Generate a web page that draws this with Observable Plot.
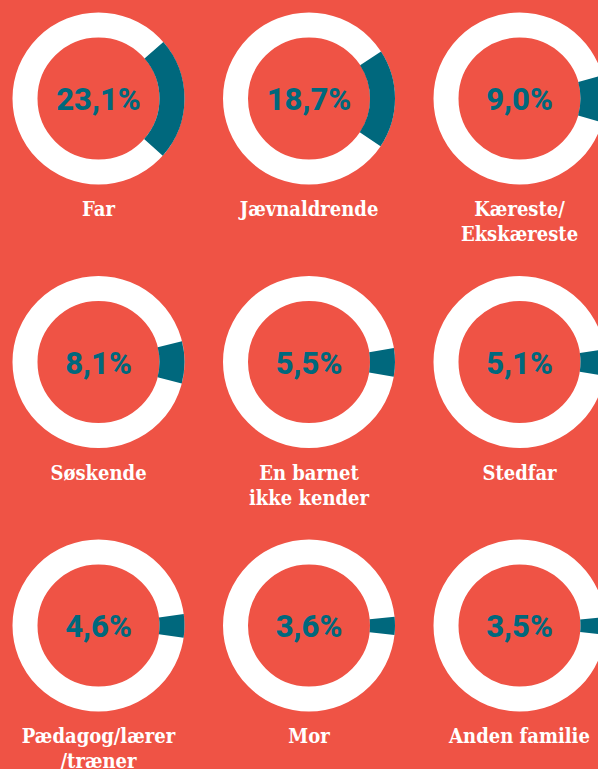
<!DOCTYPE html>
<html><head><meta charset="utf-8">
<script src="https://cdn.jsdelivr.net/npm/d3@7"></script>
<script src="https://cdn.jsdelivr.net/npm/@observablehq/plot@0.6"></script>
<style>
html,body{margin:0;padding:0;background:#EF5345;overflow:hidden;}
#chart svg{display:block;}
</style>
</head><body><div id="chart"></div>
<script>
const categories = ["Far", "Jævnaldrende", "Kæreste/\nEkskæreste", "Søskende", "En barnet\nikke kender", "Stedfar", "Pædagog/lærer\n/træner", "Mor", "Anden familie"];
const shares = [23.1, 18.7, 9.0, 8.1, 5.5, 5.1, 4.6, 3.6, 3.5];
const shareLabels = ["23,1%", "18,7%", "9,0%", "8,1%", "5,5%", "5,1%", "4,6%", "3,6%", "3,5%"];

const TEAL = "#00687D";
const data = categories.map((c, i) => ({category: c, share: shares[i], label: shareLabels[i], col: i % 3, row: Math.floor(i / 3)}));
const R = 73.5, SW = 25, CIRC = 2 * Math.PI * R;

const ring = Plot.dot(data, {x: "col", y: "row", r: R, fill: "none", stroke: "white", strokeWidth: SW});
const segments = data.map(d => Plot.dot([d], {
  x: "col", y: "row", r: R, fill: "none", stroke: TEAL, strokeWidth: SW,
  strokeDasharray: `${CIRC * d.share / 100} ${CIRC * (1 - d.share / 100)}`,
  strokeDashoffset: CIRC * d.share / 200
}));

const chart = Plot.plot({
  width: 598, height: 769, margin: 0,
  style: {background: "transparent", overflow: "visible"},
  x: {domain: [0, 2], range: [98, 519], axis: null},
  y: {domain: [0, 2], range: [98, 625], axis: null},
  marks: [
    ring,
    ...segments,
    Plot.text(data, {x: "col", y: "row", text: "label", dy: 2, fill: TEAL, fontSize: 31, fontWeight: 800, fontFamily: "Roboto"}),
    Plot.text(data, {x: "col", y: "row", text: "category", dy: 100, lineAnchor: "top", lineHeight: 1.25, fill: "white", fontSize: 20, fontWeight: 700, fontFamily: "DejaVu Serif Condensed, DejaVu Serif"})
  ]
});
document.getElementById("chart").appendChild(chart);
</script>
</body></html>
